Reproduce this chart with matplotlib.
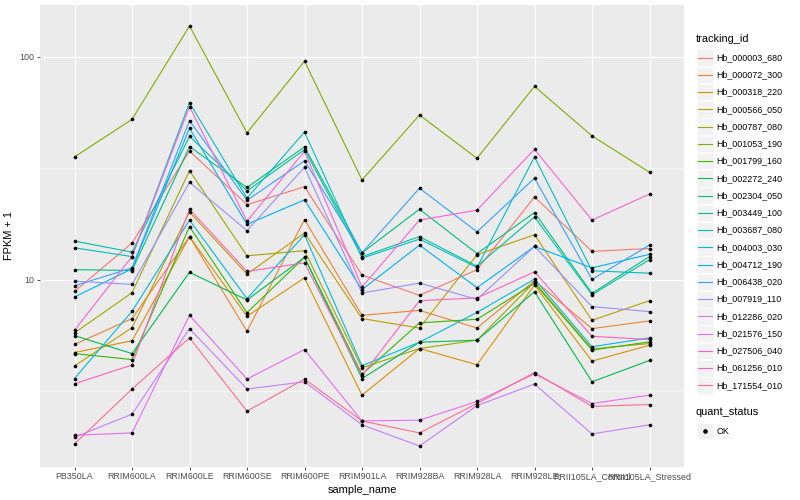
import matplotlib
matplotlib.use("Agg")
import matplotlib.pyplot as plt
from matplotlib.lines import Line2D
from matplotlib.patches import Rectangle
from matplotlib.ticker import FixedLocator, NullFormatter
import numpy as np

plt.rcParams['font.family'] = ['Liberation Sans', 'DejaVu Sans']

# ---------------- data ----------------
samples = ["PB350LA", "RRIM600LA", "RRIM600LE", "RRIM600SE", "RRIM600PE",
           "RRIM901LA", "RRIM928BA", "RRIM928LA", "RRIM928LE",
           "RRII105LA_Control", "RRII105LA_Stressed"]

tracking_ids = ["Hb_000003_680", "Hb_000072_300", "Hb_000318_220", "Hb_000566_050",
                "Hb_000787_080", "Hb_001053_190", "Hb_001799_160", "Hb_002272_240",
                "Hb_002304_050", "Hb_003449_100", "Hb_003687_080", "Hb_004003_030",
                "Hb_004712_190", "Hb_006438_020", "Hb_007919_110", "Hb_012286_020",
                "Hb_021576_150", "Hb_027506_040", "Hb_061256_010", "Hb_171554_010"]

Hb_000003_680 = [8.87, 14.6, 37.7, 21.7, 26.1, 10.5, 8.51, 11.1, 23.5, 13.4, 13.8]
Hb_000072_300 = [5.13, 6.70, 15.6, 5.88, 18.6, 6.93, 7.29, 6.08, 9.9, 6.04, 6.54]
Hb_000318_220 = [4.72, 5.33, 15.6, 6.86, 10.2, 3.04, 4.92, 4.16, 9.47, 4.32, 5.09]
Hb_000566_050 = [4.11, 6.10, 20.1, 10.6, 16.2, 6.70, 6.08, 12.95, 15.9, 6.58, 8.06]
Hb_000787_080 = [5.78, 8.75, 30.8, 12.8, 13.5, 4.03, 4.92, 5.36, 9.77, 4.90, 5.18]
Hb_001053_190 = [35.5, 52.3, 137.0, 45.5, 95.3, 28.0, 54.7, 35.0, 73.5, 44.1, 30.3]
Hb_001799_160 = [4.67, 4.39, 17.3, 7.12, 12.6, 3.77, 6.41, 6.65, 9.64, 4.84, 5.27]
Hb_002272_240 = [5.62, 4.67, 10.8, 8.12, 12.6, 3.61, 5.25, 5.36, 8.84, 3.49, 4.35]
Hb_002304_050 = [11.1, 11.0, 39.5, 25.9, 39.4, 13.2, 20.7, 13.1, 20.0, 8.69, 12.7]
Hb_003449_100 = [14.9, 13.3, 43.9, 25.0, 38.3, 12.7, 15.6, 11.5, 19.1, 8.57, 12.3]
Hb_003687_080 = [13.9, 12.7, 62.1, 23.2, 45.9, 12.5, 15.2, 11.35, 35.5, 10.97, 10.7]
Hb_004003_030 = [3.61, 7.22, 18.5, 8.23, 15.9, 4.12, 5.25, 7.14, 10.07, 5.01, 5.49]
Hb_004712_190 = [8.37, 11.2, 47.7, 17.7, 22.8, 9.03, 14.3, 9.21, 14.1, 11.3, 13.0]
Hb_006438_020 = [9.4, 11.3, 51.6, 22.7, 34.1, 13.2, 25.7, 16.4, 28.5, 10.03, 14.3]
Hb_007919_110 = [9.87, 9.53, 27.3, 16.6, 31.9, 8.72, 9.66, 8.17, 14.1, 7.58, 7.20]
Hb_012286_020 = [1.97, 2.50, 6.04, 3.24, 3.49, 2.24, 1.80, 2.73, 3.41, 2.04, 2.24]
Hb_021576_150 = [2.01, 2.06, 6.93, 3.59, 4.87, 2.33, 2.35, 2.85, 3.79, 2.79, 3.04]
Hb_027506_040 = [5.94, 12.7, 59.6, 18.3, 37.6, 9.28, 18.5, 20.5, 38.4, 18.5, 24.2]
Hb_061256_010 = [3.42, 4.15, 20.7, 10.9, 11.9, 3.72, 8.06, 8.29, 10.85, 5.58, 5.40]
Hb_171554_010 = [1.84, 3.24, 5.49, 2.58, 3.59, 2.33, 2.06, 2.79, 3.84, 2.71, 2.76]

series = [Hb_000003_680, Hb_000072_300, Hb_000318_220, Hb_000566_050, Hb_000787_080,
          Hb_001053_190, Hb_001799_160, Hb_002272_240, Hb_002304_050, Hb_003449_100,
          Hb_003687_080, Hb_004003_030, Hb_004712_190, Hb_006438_020, Hb_007919_110,
          Hb_012286_020, Hb_021576_150, Hb_027506_040, Hb_061256_010, Hb_171554_010]

quant_status = ["OK"]

# ggplot2 default hue palette for 20 levels
palette = ["#F8766D", "#EA8331", "#D89000", "#C09B00", "#A3A500", "#7CAE00",
           "#39B600", "#00BB4E", "#00BF7D", "#00C1A3", "#00BFC4", "#00BAE0",
           "#00B0F6", "#35A2FF", "#9590FF", "#C77CFF", "#E76BF3", "#FA62DB",
           "#FF62BC", "#FF6C91"]

# ---------------- figure ----------------
W, H = 800, 500
fig = plt.figure(figsize=(W / 100, H / 100), dpi=100)
fig.patch.set_facecolor("white")

px0, px1, py0, py1 = 40, 684, 5, 467
ax = fig.add_axes([px0 / W, 1 - py1 / H, (px1 - px0) / W, (py1 - py0) / H])
ax.set_facecolor("#EBEBEB")
for s in ax.spines.values():
    s.set_visible(False)

x = np.arange(len(samples))
for vals, col in zip(series, palette):
    ax.plot(x, vals, color=col, lw=0.8, zorder=3, solid_capstyle="butt")
for vals in series:
    ax.plot(x, vals, linestyle="none", marker="o", ms=2.3, color="black",
            mec="black", mew=0.3, zorder=4)

ax.set_yscale("log")
allv = np.concatenate([np.asarray(v, float) for v in series])
lo, hi = np.log10(allv.min()), np.log10(allv.max())
pad = 0.05 * (hi - lo)
ax.set_ylim(10 ** (lo - pad), 10 ** (hi + pad))
ax.set_xlim(-0.6, len(samples) - 1 + 0.6)

ax.yaxis.set_major_locator(FixedLocator([10, 100]))
ax.yaxis.set_minor_locator(FixedLocator([10 ** 0.5, 10 ** 1.5]))
ax.yaxis.set_minor_formatter(NullFormatter())
ax.set_yticks([10, 100])
ax.set_yticklabels(["10", "100"])
ax.set_xticks(x)
ax.set_xticklabels(samples)

ax.grid(which="major", color="white", lw=0.85, zorder=1)
ax.grid(which="minor", axis="y", color="white", lw=0.45, zorder=1)
ax.set_axisbelow(True)
ax.tick_params(which="major", length=2.2, width=0.6, color="#333333",
               labelcolor="#4D4D4D", labelsize=6.4, pad=1.6)
ax.tick_params(which="minor", length=0)

ax.set_xlabel("sample_name", fontsize=7.9, color="black", labelpad=2.5)
ax.set_ylabel("FPKM + 1", fontsize=7.9, color="black", labelpad=4)

# ---------------- legends (pixel coordinates) ----------------
lax = fig.add_axes([0, 0, 1, 1], facecolor="none")
lax.set_xlim(0, W)
lax.set_ylim(H, 0)
lax.axis("off")

lax.text(696, 39, "tracking_id", fontsize=7.9, va="center", ha="left")
y0, dy = 57.7, 17.25
for i, (name, col) in enumerate(zip(tracking_ids, palette)):
    yc = y0 + i * dy
    lax.add_patch(Rectangle((696.5, yc - 8.3), 16.6, 16.6, facecolor="#F2F2F2",
                            edgecolor="white", lw=0.5))
    lax.add_line(Line2D([698, 711.5], [yc, yc], color=col, lw=0.8))
    lax.text(716.5, yc, name, fontsize=6.4, va="center", ha="left", color="black")

lax.text(696, 412, "quant_status", fontsize=7.9, va="center", ha="left")
yk = 431
for k, status in enumerate(quant_status):
    lax.add_patch(Rectangle((696.5, yk - 8.3), 16.6, 16.6, facecolor="#F2F2F2",
                            edgecolor="white", lw=0.5))
    lax.add_line(Line2D([704.7], [yk], marker="o", ms=2.3, color="black",
                        linestyle="none"))
    lax.text(716.5, yk, status, fontsize=6.4, va="center", ha="left")

fig.savefig("out.png", dpi=100, facecolor="white")
